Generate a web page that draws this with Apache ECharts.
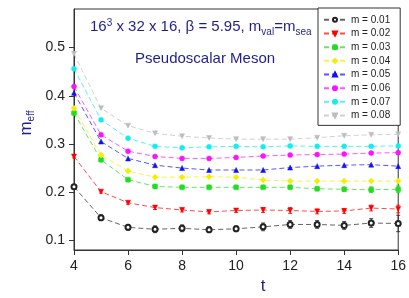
<!DOCTYPE html>
<html><head><meta charset="utf-8">
<script src="https://cdn.jsdelivr.net/npm/echarts@6/dist/echarts.min.js"></script>
<style>html,body{margin:0;padding:0;background:#fff}#c{width:409px;height:298px}</style>
</head><body><div id="c"></div>
<script>
const tValues = [4,5,6,7,8,9,10,11,12,13,14,15,16];
const m01 = [0.211,0.147,0.127,0.123,0.125,0.122,0.124,0.128,0.133,0.133,0.131,0.136,0.135];
const m02 = [0.274,0.201,0.178,0.168,0.163,0.159,0.162,0.163,0.162,0.160,0.161,0.167,0.165];
const m03 = [0.364,0.267,0.226,0.212,0.210,0.210,0.210,0.210,0.210,0.207,0.206,0.205,0.206];
const m04 = [0.374,0.277,0.244,0.231,0.231,0.232,0.231,0.225,0.223,0.223,0.223,0.223,0.223];
const m05 = [0.406,0.305,0.270,0.256,0.250,0.246,0.246,0.246,0.251,0.254,0.256,0.257,0.254];
const m06 = [0.419,0.319,0.285,0.274,0.270,0.270,0.272,0.275,0.277,0.278,0.279,0.281,0.282];
const m07 = [0.456,0.350,0.312,0.295,0.292,0.294,0.295,0.294,0.296,0.295,0.295,0.295,0.296];
const m08 = [0.487,0.374,0.338,0.322,0.316,0.3125,0.310,0.310,0.310,0.313,0.317,0.319,0.320];
const err01 = [0.004,0.006,0.006,0.007,0.007,0.006,0.006,0.008,0.008,0.008,0.008,0.009,0.017];
const err02 = [0.003,0.003,0.003,0.004,0.004,0.004,0.004,0.005,0.006,0.005,0.005,0.006,0.008];
const err03 = [0.002,0.002,0.002,0.002,0.002,0.002,0.002,0.002,0.002,0.003,0.004,0.006,0.007];
const seriesNames = ['m = 0.01','m = 0.02','m = 0.03','m = 0.04','m = 0.05','m = 0.06','m = 0.07','m = 0.08'];
const yTicks = [0.1,0.2,0.3,0.4,0.5];

const FONT = 'Liberation Sans, Arial, sans-serif';
const NAVY = '#1f1f8c';
const styles = [
  {color:'#222222', symbol:'emptyCircle', size:5, rot:0},
  {color:'#ff0000', symbol:'triangle', size:5, rot:180},
  {color:'#22dd22', symbol:'roundRect', size:5, rot:0},
  {color:'#f0f000', symbol:'diamond', size:6, rot:0},
  {color:'#1010ff', symbol:'triangle', size:5, rot:0},
  {color:'#ff10ff', symbol:'circle', size:5, rot:0},
  {color:'#10eeee', symbol:'circle', size:5, rot:0},
  {color:'#bdbdbd', symbol:'triangle', size:5, rot:180}
];
const allData = [m01,m02,m03,m04,m05,m06,m07,m08];
const errs = [err01, err02, err03];

const series = [];
errs.forEach((e, i) => {
  series.push({
    type:'custom', name:'err'+i, silent:true, z:1,
    data: tValues.map((t,k)=>[t, allData[i][k]-e[k], allData[i][k]+e[k]]),
    renderItem: function(params, api){
      const lo = api.coord([api.value(0), api.value(1)]);
      const hi = api.coord([api.value(0), api.value(2)]);
      const st = {stroke: styles[i].color, lineWidth:1, opacity:0.85};
      return {type:'group', children:[
        {type:'line', shape:{x1:lo[0],y1:lo[1],x2:hi[0],y2:hi[1]}, style:st},
        {type:'line', shape:{x1:lo[0]-2,y1:lo[1],x2:lo[0]+2,y2:lo[1]}, style:st},
        {type:'line', shape:{x1:hi[0]-2,y1:hi[1],x2:hi[0]+2,y2:hi[1]}, style:st}
      ]};
    }
  });
});
allData.forEach((d,i)=>{
  const s = styles[i];
  series.push({
    type:'line', name:seriesNames[i],
    data: tValues.map((t,k)=>[t,d[k]]),
    symbol:s.symbol, symbolSize:s.size, symbolRotate:s.rot,
    itemStyle:{color:s.color, borderColor:s.color, borderWidth: s.symbol==='emptyCircle'?1.2:0.5},
    lineStyle:{color:s.color, width:1, type:[5,3], opacity:0.7},
    z:2
  });
});

const chart = echarts.init(document.getElementById('c'), null, {renderer:'canvas'});
chart.setOption({
  backgroundColor:'#ffffff',
  animation:false,
  textStyle:{fontFamily:FONT},
  grid:{left:74, right:10, top:9, bottom:48, show:true, borderColor:'#333', borderWidth:1, backgroundColor:'transparent'},
  xAxis:{type:'value', min:4, max:16, interval:2,
    axisLine:{onZero:false, lineStyle:{color:'#333', width:1}},
    axisTick:{show:true, inside:false, length:5, lineStyle:{color:'#333'}},
    axisLabel:{color:'#222', fontSize:14, fontFamily:FONT, margin:9},
    splitLine:{show:false}},
  yAxis:{type:'value', min:0.08, max:0.58,
    axisLine:{show:true, onZero:false, lineStyle:{color:'#333', width:1}},
    axisTick:{show:true, inside:false, length:5, lineStyle:{color:'#333'}, customValues:yTicks},
    axisLabel:{color:'#222', fontSize:14, fontFamily:FONT, margin:9, customValues:yTicks,
      formatter:v=>v.toFixed(1)},
    splitLine:{show:false}},
  legend:{
    data:seriesNames, orient:'vertical', left:318, top:8,
    padding:[5,10,3,5], itemGap:0, itemWidth:22, itemHeight:5,
    backgroundColor:'#fff', borderColor:'#333', borderWidth:1, borderRadius:0,
    textStyle:{fontSize:10, fontFamily:FONT, color:'#222', lineHeight:13.67},
    z:10
  },
  graphic:[
    {type:'text', left:90, top:17, z:20, style:{
      text:'{n|16}{sup|3}{n| x 32 x 16, β = 5.95, m}{sub|val}{n|=m}{sub|sea}',
      rich:{
        n:{fontSize:15, fontFamily:FONT, fill:NAVY, lineHeight:16},
        sup:{fontSize:10, fontFamily:FONT, fill:NAVY, lineHeight:10, padding:[0,0,8,0]},
        sub:{fontSize:10, fontFamily:FONT, fill:NAVY, lineHeight:10, padding:[10,0,0,0]}
      }}},
    {type:'text', left:135, top:51, z:20, style:{text:'Pseudoscalar Meson', fontSize:15, fontFamily:FONT, fill:NAVY}},
    {type:'text', x:26, y:123, rotation:Math.PI/2, z:20, style:{
      text:'{n|m}{sub|eff}', align:'center', verticalAlign:'middle',
      rich:{
        n:{fontSize:17, fontFamily:FONT, fill:NAVY, lineHeight:18},
        sub:{fontSize:10, fontFamily:FONT, fill:NAVY, lineHeight:10, padding:[10,0,0,0]}
      }}},
    {type:'text', x:263, y:286, z:20, style:{text:'t', fontSize:17, fontFamily:FONT, fill:NAVY, align:'center', verticalAlign:'middle'}}
  ],
  series:series
});
</script>
</body></html>
